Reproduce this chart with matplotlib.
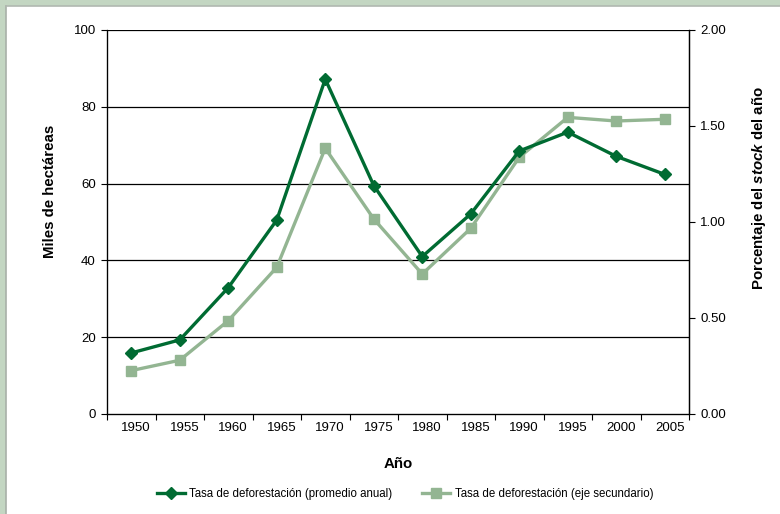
import matplotlib
matplotlib.use("Agg")
import matplotlib.pyplot as plt
import matplotlib.transforms as mtransforms
from matplotlib.patches import Rectangle
from matplotlib.lines import Line2D

plt.rcParams['font.family'] = ['Liberation Sans', 'DejaVu Sans']
plt.rcParams['mathtext.fontset'] = 'custom'
plt.rcParams['mathtext.it'] = 'Liberation Sans:italic:bold'
plt.rcParams['mathtext.rm'] = 'Liberation Sans:bold'
plt.rcParams['mathtext.bf'] = 'Liberation Sans:bold'

years = ["1950", "1955", "1960", "1965", "1970", "1975", "1980", "1985",
         "1990", "1995", "2000", "2005"]
tasa_anual = [15.9, 19.3, 32.9, 50.5, 87.2, 59.5, 41.0, 52.1, 68.5, 73.4, 67.1, 62.4]
tasa_pct = [0.226, 0.28, 0.486, 0.764, 1.384, 1.016, 0.729, 0.967, 1.337, 1.545, 1.526, 1.535]

left_ticks = [0, 20, 40, 60, 80, 100]
right_ticks = [0.0, 0.5, 1.0, 1.5, 2.0]

dark = "#006B32"
light = "#93B592"
bg = "#C3D6C2"

W, H = 780, 514
fig = plt.figure(figsize=(W / 100, H / 100), dpi=100)
fig.patch.set_facecolor(bg)
# white panel
fig.add_artist(Rectangle((6 / W, 0), 1 - 6 / W, (H - 6) / H, transform=fig.transFigure,
                         facecolor="white", edgecolor="none", zorder=-10))
fig.add_artist(Line2D([5.5 / W, 5.5 / W], [0, (H - 6) / H], transform=fig.transFigure,
                      color="#A8B0A8", lw=1.2, zorder=-9))
fig.add_artist(Line2D([5.5 / W, 1], [(H - 5.5) / H, (H - 5.5) / H], transform=fig.transFigure,
                      color="#B0B8B0", lw=1.2, zorder=-9))

ax = fig.add_axes([107 / W, (H - 414) / H, (689 - 107) / W, (414 - 30) / H])
ax.set_facecolor("none")
x = list(range(len(years)))
ax.set_xlim(-0.5, len(years) - 0.5)
ax.set_ylim(0, 100)
ax.set_yticks(left_ticks)
ax.set_yticklabels([str(v) for v in left_ticks], fontsize=9.5)
for v in left_ticks[1:]:
    ax.axhline(v, color="black", lw=0.9, zorder=1)

ax.set_xticks([i - 0.5 for i in range(len(years) + 1)])
ax.set_xticklabels([""] * (len(years) + 1))
ax.set_xticks(x, minor=True)
ax.set_xticklabels(years, minor=True, fontsize=9.5)
ax.tick_params(axis="x", which="minor", length=0, pad=6)
ax.tick_params(axis="x", which="major", length=4, direction="out", width=0.8)
ax.tick_params(axis="y", length=4, direction="out", width=0.8, pad=4)
offset = mtransforms.ScaledTranslation(5 / 100, 0, fig.dpi_scale_trans)
for lab in ax.get_xticklabels(minor=True):
    lab.set_transform(lab.get_transform() + offset)

ax.spines["top"].set_visible(False)
for s in ["left", "bottom", "right"]:
    ax.spines[s].set_linewidth(0.9)

ax2 = ax.twinx()
ax2.set_ylim(0, 2)
ax2.set_yticks(right_ticks)
ax2.set_yticklabels([f"{v:.2f}" for v in right_ticks], fontsize=9.5)
ax2.tick_params(axis="y", length=4, direction="out", width=0.8, pad=4)
ax2.spines["top"].set_visible(False)
ax2.spines["right"].set_linewidth(0.9)

l2, = ax2.plot(x, tasa_pct, color=light, lw=2.4, marker="s", markersize=7.5, zorder=3,
               label="Tasa de deforestación (eje secundario)")
ax3 = ax.twinx()
ax3.set_ylim(0, 100)
ax3.axis("off")
l1, = ax3.plot(x, tasa_anual, color=dark, lw=2.4, marker="D", markersize=6, zorder=4,
               label="Tasa de deforestación (promedio anual)")

ylab_pos = (414 - 191) / (414 - 30)
ax.set_ylabel("Miles de hectáreas", fontsize=10.8, fontweight="bold", labelpad=10)
ax.yaxis.set_label_coords(-0.086, ylab_pos)
ax.set_xlabel("Año", fontsize=10.8, fontweight="bold", labelpad=16)
ax2.set_ylabel("Porcentaje del $\\it{stock}$ del año", fontsize=10.8, fontweight="bold")
ax2.yaxis.set_label_coords(1.104, ylab_pos + 0.008)

fig.legend(handles=[l1, l2], loc="center", bbox_to_anchor=(405 / W, (H - 494) / H),
           ncol=2, frameon=False, fontsize=8.3, handlelength=2.4, columnspacing=2.6,
           handletextpad=0.4)

fig.savefig("out.png", dpi=100, facecolor=fig.get_facecolor())
